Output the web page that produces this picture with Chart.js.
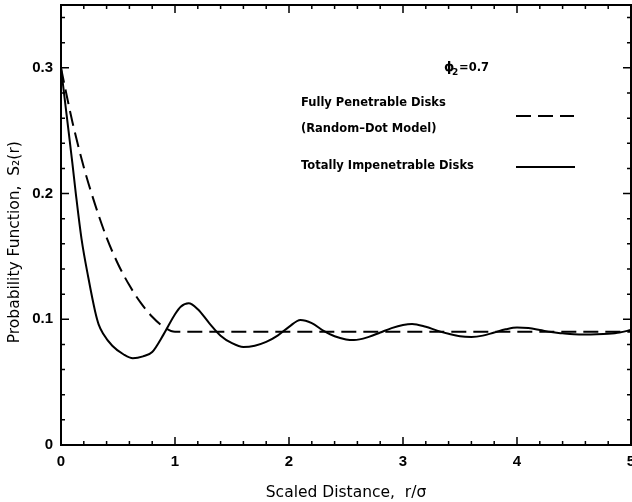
<!DOCTYPE html>
<html>
<head>
<meta charset="utf-8">
<script src="https://cdn.jsdelivr.net/npm/chart.js@4/dist/chart.umd.min.js"></script>
<style>
    html, body { margin: 0; padding: 0; background: #fff; }
    #wrap { width: 632px; height: 502px; }
</style>
</head>
<body>
<div id="wrap"><canvas id="chart"></canvas></div>
<script>
// ── Data ────────────────────────────────────────────────────────────────────
// Fully penetrable disks (random-dot model), dashed
const penetrableX = [0, 0.05, 0.1, 0.2, 0.3, 0.4, 0.5, 0.6, 0.7, 0.8, 0.9, 1.0, 5.0];
const penetrableY = [0.300, 0.278, 0.257, 0.221, 0.191, 0.165, 0.144, 0.127, 0.113, 0.102, 0.094, 0.090, 0.090];

// Totally impenetrable disks, solid
const impenetrableX = [0, 0.05, 0.1, 0.13, 0.18, 0.24, 0.3, 0.33, 0.37, 0.45, 0.55, 0.63, 0.72, 0.8, 0.9, 1.0,
    1.05, 1.12, 1.2, 1.3, 1.4, 1.5, 1.6, 1.7, 1.8, 1.9, 2.0, 2.1, 2.2, 2.3, 2.4, 2.5, 2.57,
    2.7, 2.8, 2.9, 3.0, 3.08, 3.2, 3.3, 3.4, 3.5, 3.6, 3.7, 3.8, 3.9, 4.0, 4.1, 4.2, 4.3,
    4.4, 4.5, 4.6, 4.7, 4.8, 4.9, 5.0];
const impenetrableY = [0.300, 0.262, 0.224, 0.200, 0.164, 0.133, 0.106, 0.096, 0.0885, 0.079, 0.072, 0.069, 0.0705, 0.074, 0.088, 0.104,
    0.110, 0.1128, 0.108, 0.097, 0.087, 0.081, 0.078, 0.079, 0.082, 0.087, 0.094, 0.0995, 0.097, 0.091, 0.0865, 0.084, 0.0835,
    0.086, 0.0895, 0.093, 0.0955, 0.0963, 0.094, 0.091, 0.0885, 0.0865, 0.086, 0.087, 0.0895, 0.092, 0.0935, 0.093, 0.0915, 0.0898,
    0.0888, 0.088, 0.0878, 0.088, 0.0885, 0.0895, 0.0915];

const xTicks = [0, 1, 2, 3, 4, 5];
const yTicks = [0, 0.1, 0.2, 0.3];

const FONT = '"DejaVu Sans", sans-serif';
const TICK_FONT = '"Liberation Sans", Arial, sans-serif';
const DASH = [15, 7];

const toPoints = (xs, ys) => xs.map((x, i) => ({ x, y: ys[i] }));

// ── Frame with inward ticks on all four sides ───────────────────────────────
const frameTicks = {
    id: 'frameTicks',
    afterDatasetsDraw(chart) {
        const { ctx, chartArea: a, scales: { x, y } } = chart;
        ctx.save();
        ctx.strokeStyle = '#000';
        ctx.lineWidth = 2;
        ctx.strokeRect(a.left, a.top, a.right - a.left, a.bottom - a.top);

        ctx.lineWidth = 1.5;
        ctx.beginPath();
        for (let i = 0; i <= 25; i++) {
            const px = x.getPixelForValue(i * 0.2);
            const len = i % 5 === 0 ? 8 : 4;
            ctx.moveTo(px, a.bottom); ctx.lineTo(px, a.bottom - len);
            ctx.moveTo(px, a.top);    ctx.lineTo(px, a.top + len);
        }
        for (let i = 0; i <= 17; i++) {
            const py = y.getPixelForValue(i * 0.02);
            const len = i % 5 === 0 ? 8 : 4;
            ctx.moveTo(a.left, py);  ctx.lineTo(a.left + len, py);
            ctx.moveTo(a.right, py); ctx.lineTo(a.right - len, py);
        }
        ctx.stroke();
        ctx.restore();
    }
};

// ── Legend / annotation block inside the plot ───────────────────────────────
const notes = {
    id: 'notes',
    afterDatasetsDraw(chart) {
        const { ctx, chartArea: a } = chart;
        const L = a.left, T = a.top;
        ctx.save();
        ctx.fillStyle = '#000';
        ctx.textBaseline = 'middle';

        // phi_2 = 0.7
        ctx.font = 'bold 13px ' + FONT;
        ctx.fillText('ϕ', L + 383, T + 63);
        ctx.font = 'bold 9px ' + FONT;
        ctx.fillText('2', L + 391, T + 68);
        ctx.font = 'bold 11.5px ' + FONT;
        ctx.fillText('=0.7', L + 398, T + 63);

        ctx.fillText('Fully Penetrable Disks', L + 240, T + 98);
        ctx.fillText('(Random\u2013Dot Model)', L + 240, T + 124);
        ctx.fillText('Totally Impenetrable Disks', L + 240, T + 161);

        ctx.strokeStyle = '#000';
        ctx.lineWidth = 2;
        ctx.setLineDash(DASH);
        ctx.beginPath();
        ctx.moveTo(L + 455, T + 111); ctx.lineTo(L + 513, T + 111);
        ctx.stroke();
        ctx.setLineDash([]);
        ctx.beginPath();
        ctx.moveTo(L + 455, T + 162); ctx.lineTo(L + 514, T + 162);
        ctx.stroke();
        ctx.restore();
    }
};

new Chart(document.getElementById('chart'), {
    type: 'line',
    data: {
        datasets: [
            {
                label: 'Fully Penetrable Disks (Random-Dot Model)',
                data: toPoints(penetrableX, penetrableY),
                borderColor: '#000',
                borderWidth: 2,
                borderDash: DASH,
                pointRadius: 0,
                cubicInterpolationMode: 'monotone',
                fill: false,
            },
            {
                label: 'Totally Impenetrable Disks',
                data: toPoints(impenetrableX, impenetrableY),
                borderColor: '#000',
                borderWidth: 2,
                pointRadius: 0,
                cubicInterpolationMode: 'monotone',
                fill: false,
            },
        ],
    },
    options: {
        responsive: true,
        maintainAspectRatio: false,
        animation: false,
        layout: { padding: { top: 5, right: 1, left: 0, bottom: 0 } },
        plugins: {
            legend: { display: false },
            tooltip: { enabled: false },
        },
        scales: {
            x: {
                type: 'linear',
                min: 0,
                max: 5,
                afterBuildTicks: s => { s.ticks = xTicks.map(v => ({ value: v })); },
                afterFit: s => { s.height = 57; s.paddingLeft = 0; s.paddingRight = 0; },
                grid: { display: false, drawTicks: false },
                border: { display: false },
                ticks: {
                    color: '#000',
                    padding: 8,
                    maxRotation: 0,
                    font: { family: TICK_FONT, size: 15, weight: 'bold' },
                    callback: v => String(v),
                },
                title: {
                    display: true,
                    text: 'Scaled Distance,  r/σ',
                    color: '#000',
                    font: { family: FONT, size: 15.5 },
                    padding: { top: 11, bottom: 0 },
                },
            },
            y: {
                min: 0,
                max: 0.35,
                afterBuildTicks: s => { s.ticks = yTicks.map(v => ({ value: v })); },
                afterFit: s => { s.width = 61; s.paddingTop = 0; s.paddingBottom = 0; },
                grid: { display: false, drawTicks: false },
                border: { display: false },
                ticks: {
                    color: '#000',
                    padding: 8,
                    font: { family: TICK_FONT, size: 15, weight: 'bold' },
                    callback: v => String(v),
                },
                title: {
                    display: true,
                    text: 'Probability Function,  S₂(r)' + '\u00a0'.repeat(7),
                    color: '#000',
                    font: { family: FONT, size: 15.5 },
                    padding: { top: 6, bottom: 0 },
                },
            },
        },
    },
    plugins: [frameTicks, notes],
});
</script>
</body>
</html>
